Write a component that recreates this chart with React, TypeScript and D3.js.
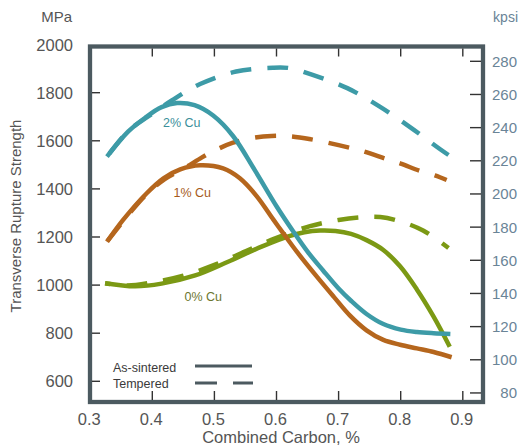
import React from "react";
import * as d3 from "d3";

// Combined carbon (%) and transverse rupture strength (MPa) per series
const cu2SinteredC = [0.327, 0.361, 0.388, 0.415, 0.44, 0.468, 0.498, 0.53, 0.565, 0.6, 0.627, 0.65, 0.675, 0.7, 0.72, 0.745, 0.772, 0.8, 0.826, 0.853, 0.88];
const cu2SinteredMPa = [1534, 1638, 1695, 1740, 1757, 1748, 1705, 1620, 1478, 1328, 1223, 1139, 1061, 986, 935, 880, 838, 815, 805, 800, 797];

const cu2TemperedC = [0.327, 0.361, 0.394, 0.432, 0.477, 0.535, 0.594, 0.622, 0.657, 0.714, 0.765, 0.815, 0.863, 0.877];
const cu2TemperedMPa = [1534, 1640, 1702, 1769, 1836, 1888, 1904, 1902, 1875, 1819, 1744, 1657, 1566, 1541];

const cu1SinteredC = [0.327, 0.353, 0.391, 0.418, 0.445, 0.477, 0.514, 0.541, 0.568, 0.595, 0.611, 0.633, 0.665, 0.692, 0.718, 0.745, 0.772, 0.799, 0.826, 0.853, 0.882];
const cu1SinteredMPa = [1180, 1271, 1382, 1444, 1481, 1498, 1485, 1444, 1370, 1272, 1215, 1138, 1035, 952, 874, 812, 772, 752, 737, 722, 700];

const cu1TemperedC = [0.327, 0.36, 0.39, 0.42, 0.453, 0.48, 0.504, 0.53, 0.56, 0.592, 0.622, 0.656, 0.7, 0.74, 0.775, 0.8, 0.83, 0.855, 0.874];
const cu1TemperedMPa = [1180, 1288, 1376, 1441, 1488, 1531, 1564, 1592, 1611, 1620, 1619, 1606, 1582, 1556, 1526, 1505, 1476, 1456, 1437];

const cu0SinteredC = [0.324, 0.372, 0.415, 0.469, 0.522, 0.576, 0.619, 0.645, 0.67, 0.695, 0.72, 0.745, 0.772, 0.799, 0.826, 0.853, 0.879];
const cu0SinteredMPa = [1008, 995, 1006, 1040, 1097, 1160, 1203, 1220, 1227, 1225, 1213, 1187, 1146, 1078, 982, 869, 744];

const cu0TemperedC = [0.324, 0.36, 0.4, 0.45, 0.5, 0.55, 0.6, 0.654, 0.7, 0.735, 0.767, 0.799, 0.836, 0.877];
const cu0TemperedMPa = [1008, 998, 1011, 1039, 1084, 1140, 1196, 1245, 1271, 1282, 1283, 1265, 1227, 1154];

// Axis ticks
const carbonTicks = [0.3, 0.4, 0.5, 0.6, 0.7, 0.8, 0.9];
const mpaTicks = [600, 800, 1000, 1200, 1400, 1600, 1800, 2000];
const kpsiTicks = [80, 100, 120, 140, 160, 180, 200, 220, 240, 260, 280];

const MPA_PER_KSI = 6.894757;

const TEAL = "#3d9ba7";
const ORANGE = "#b5661d";
const GREEN = "#7b9914";
const FRAME = "#4c5a60";
const FONT = "'Liberation Sans', Arial, Helvetica, sans-serif";

export default function App() {
  const x = d3.scaleLinear().domain([0.3, 0.9]).range([90.2, 462.8]);
  const y = d3.scaleLinear().domain([600, 2000]).range([381.3, 44.6]);
  const yK = (k: number) => y(k * MPA_PER_KSI);

  const line = d3
    .line<[number, number]>()
    .x((d) => x(d[0]))
    .y((d) => y(d[1]))
    .curve(d3.curveCatmullRom.alpha(0.5));

  const zip = (c: number[], v: number[]) => c.map((ci, i) => [ci, v[i]] as [number, number]);
  // tempered curves are laid out from their right end so the dash rhythm starts there
  const rev = (c: number[], v: number[]) => zip(c, v).reverse();

  const frameL = 90, frameR = 483, frameT = 46.5, frameB = 402;

  const series = [
    { c: cu0TemperedC, v: cu0TemperedMPa, color: GREEN, dashed: true, off: 13 },
    { c: cu1TemperedC, v: cu1TemperedMPa, color: ORANGE, dashed: true, off: 8 },
    { c: cu2TemperedC, v: cu2TemperedMPa, color: TEAL, dashed: true, off: 1 },
    { c: cu0SinteredC, v: cu0SinteredMPa, color: GREEN, dashed: false, off: 0 },
    { c: cu1SinteredC, v: cu1SinteredMPa, color: ORANGE, dashed: false, off: 0 },
    { c: cu2SinteredC, v: cu2SinteredMPa, color: TEAL, dashed: false, off: 0 },
  ];

  return (
    <svg
      width={521}
      height={446}
      style={{ position: "absolute", left: 0, top: 0, display: "block", background: "#fff" }}
      fontFamily={FONT}
    >
      {/* curves */}
      {series.map((s, i) => (
        <path
          key={i}
          d={(s.dashed ? line(rev(s.c, s.v)) : line(zip(s.c, s.v))) || ""}
          fill="none"
          stroke={s.color}
          strokeWidth={4.5}
          strokeDasharray={s.dashed ? "21 16" : undefined}
          strokeDashoffset={s.dashed ? s.off : undefined}
          strokeLinecap="butt"
          strokeLinejoin="round"
        />
      ))}

      {/* frame */}
      <rect
        x={frameL}
        y={frameT}
        width={frameR - frameL}
        height={frameB - frameT}
        fill="none"
        stroke={FRAME}
        strokeWidth={4.3}
      />

      {/* inner ticks: left (MPa) */}
      {mpaTicks.filter((t) => t < 2000).map((t) => (
        <line key={"lt" + t} x1={frameL + 2} x2={frameL + 10} y1={y(t)} y2={y(t)} stroke="#333" strokeWidth={1.4} />
      ))}
      {/* inner ticks: right (kpsi) */}
      {kpsiTicks.map((t) => (
        <line key={"rt" + t} x1={frameR - 13} x2={frameR - 2} y1={yK(t)} y2={yK(t)} stroke="#333" strokeWidth={1.4} />
      ))}
      {/* inner ticks: top and bottom */}
      {carbonTicks.filter((t) => t > 0.3).map((t) => (
        <g key={"xt" + t}>
          <line x1={x(t)} x2={x(t)} y1={frameT + 2} y2={frameT + 10} stroke="#333" strokeWidth={1.4} />
          <line x1={x(t)} x2={x(t)} y1={frameB - 11} y2={frameB - 2} stroke="#333" strokeWidth={1.4} />
        </g>
      ))}

      {/* left axis labels */}
      {mpaTicks.map((t) => (
        <text key={"ll" + t} x={73} y={y(t)} dy="0.36em" textAnchor="end" fontSize={16.5} fill="#555">
          {t}
        </text>
      ))}
      <text x={72} y={22} textAnchor="end" fontSize={15} fill="#555">MPa</text>

      {/* right axis labels */}
      {kpsiTicks.map((t) => (
        <text key={"rl" + t} x={517} y={yK(t)} dy="0.36em" textAnchor="end" fontSize={15} fill="#6a8497">
          {t}
        </text>
      ))}
      <text x={518} y={22} textAnchor="end" fontSize={14} fill="#6a8497">kpsi</text>

      {/* bottom axis labels */}
      {carbonTicks.map((t) => (
        <text key={"bl" + t} x={x(t) - 1} y={425} textAnchor="middle" fontSize={16.5} fill="#555">
          {t.toFixed(1)}
        </text>
      ))}
      <text x={281} y={443} textAnchor="middle" fontSize={16.5} fill="#555">Combined Carbon, %</text>

      <text
        transform="translate(21,216) rotate(-90)"
        textAnchor="middle"
        fontSize={15}
        fill="#555"
      >
        Transverse Rupture Strength
      </text>

      {/* series labels */}
      <text x={163} y={127} fontSize={12.5} fill="#3a8f9a">2% Cu</text>
      <text x={173.5} y={197} fontSize={12.5} fill="#a65a1a">1% Cu</text>
      <text x={184.5} y={301} fontSize={12.5} fill="#6c7630">0% Cu</text>

      {/* legend */}
      <text x={113} y={372} fontSize={12.5} fill="#3a3a3a">As-sintered</text>
      <text x={113} y={387.5} fontSize={12.5} fill="#3a3a3a">Tempered</text>
      <line x1={195} x2={252} y1={366} y2={366} stroke={FRAME} strokeWidth={3} />
      <line x1={195} x2={253} y1={383} y2={383} stroke={FRAME} strokeWidth={3} strokeDasharray="22 16" />
    </svg>
  );
}
